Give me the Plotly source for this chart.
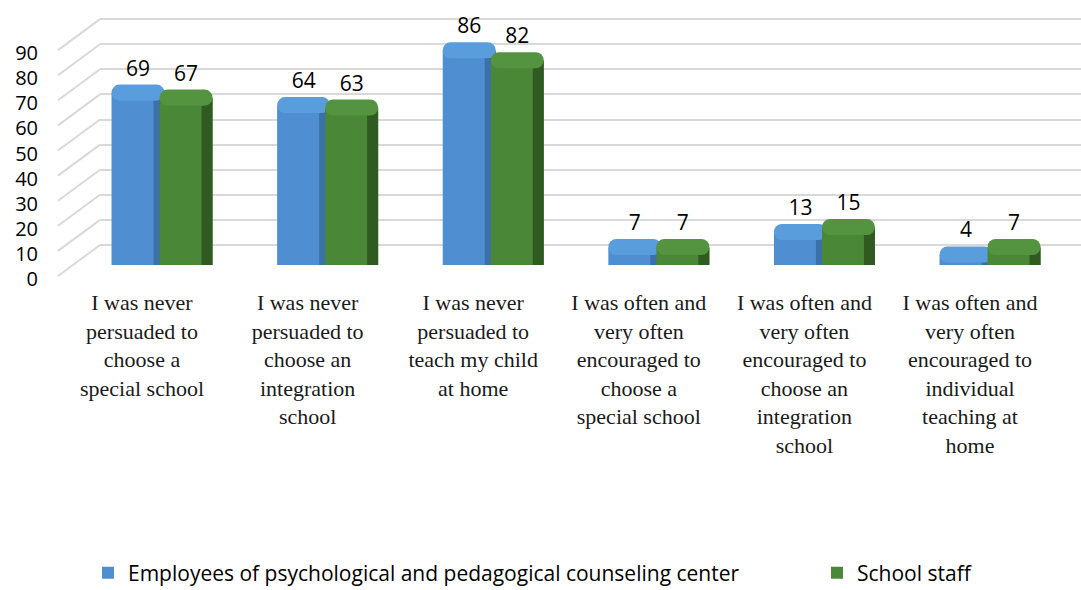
import plotly.graph_objects as go

categories = [
    "I was never<br>persuaded to<br>choose a<br>special school",
    "I was never<br>persuaded to<br>choose an<br>integration<br>school",
    "I was never<br>persuaded to<br>teach my child<br>at home",
    "I was often and<br>very often<br>encouraged to<br>choose a<br>special school",
    "I was often and<br>very often<br>encouraged to<br>choose an<br>integration<br>school",
    "I was often and<br>very often<br>encouraged to<br>individual<br>teaching at<br>home",
]
series_names = ["Employees of psychological and pedagogical counseling center", "School staff"]
employees = [69, 64, 86, 7, 13, 4]
school_staff = [67, 63, 82, 7, 15, 7]
y_ticks = [0, 10, 20, 30, 40, 50, 60, 70, 80, 90]

# styling / geometry
W, H = 1081, 590
ML, MR, MT, MB = 100, 0, 17, 325
plot_h = H - MT - MB          # 248
bar_scale = 2.49              # px per unit (bars)
wall_scale = 2.51             # px per unit (back wall)
wall_zero_off = 20            # wall zero line is 20 px above bar base
depth = 8.6 / bar_scale       # top-face depth in bar units
overlap = 3.0                 # cap overlap into the body (units)
bw = 53 / 165.6               # bar width in category units
shade_w = 11 / 165.6

y_wall_min = -wall_zero_off / wall_scale
y_wall_max = y_wall_min + plot_h / wall_scale
y_bar_max = plot_h / bar_scale

styles = [
    dict(body="#4f8fd1", shade="#3b70a9", cap="#5a9ddc", legend="legend", lx=88, off=-0.184),
    dict(body="#4a8737", shade="#2f5b22", cap="#549440", legend="legend2", lx=817, off=0.106),
]

SERIF = "Liberation Serif, Times New Roman, serif"
SANS = "Open Sans, sans-serif"

fig = go.Figure()
# invisible trace so that the wall axis (y) is drawn
fig.add_trace(go.Scatter(x=categories, y=[0] * len(categories), mode="markers",
                         marker=dict(opacity=0), showlegend=False, hoverinfo="skip"))

for name, vals, st in zip(series_names, [employees, school_staff], styles):
    off = st["off"]
    cap_base = [v - min(v, overlap) for v in vals]
    cap_len = [v + depth - b for v, b in zip(vals, cap_base)]
    fig.add_trace(go.Bar(
        x=categories, y=vals, yaxis="y2", name=name, width=bw, offset=off,
        marker=dict(color=st["body"], line=dict(width=0)), showlegend=True,
        legend=st["legend"], hoverinfo="skip"))
    fig.add_trace(go.Bar(
        x=categories, y=vals, yaxis="y2", width=shade_w, offset=off + bw - shade_w,
        marker=dict(color=st["shade"], line=dict(width=0)), showlegend=False,
        hoverinfo="skip"))
    fig.add_trace(go.Bar(
        x=categories, y=cap_len, base=cap_base, yaxis="y2", width=bw, offset=off,
        marker=dict(color=st["cap"], line=dict(width=0), cornerradius=13),
        text=[str(v) for v in vals], textposition="outside", cliponaxis=False,
        textfont=dict(family=SANS, size=21, color="#000000"),
        showlegend=False, hoverinfo="skip"))

# side-wall diagonal lines
frac = lambda px: (H - MB - px) / plot_h
for v in y_ticks:
    back_px = H - MB - wall_zero_off - wall_scale * v
    front_px = back_px + 31
    fig.add_shape(type="line", xref="paper", yref="paper",
                  x0=(58 - ML) / (W - ML - MR), y0=frac(front_px), x1=0, y1=frac(back_px),
                  line=dict(color="#d9d9d9", width=2), layer="below")

legend_common = dict(orientation="h", xref="container", yref="container",
                     y=(H - 573) / H, xanchor="left", yanchor="middle",
                     font=dict(family=SANS, size=21, color="#000000"),
                     bgcolor="rgba(0,0,0,0)")

fig.update_layout(
    width=W, height=H,
    margin=dict(l=ML, r=MR, t=MT, b=MB, pad=0),
    paper_bgcolor="white", plot_bgcolor="white",
    barmode="overlay",
    xaxis=dict(type="category", range=[(ML - 142) / 165.6, (W - MR - 142) / 165.6],
               showgrid=False, zeroline=False, showline=False, ticks="",
               tickfont=dict(family=SERIF, size=22, color="#1a1a1a"),
               ticklabelstandoff=22, tickangle=0),
    yaxis=dict(range=[y_wall_min, y_wall_max], tickvals=y_ticks, showgrid=True,
               gridcolor="#d9d9d9", gridwidth=2, zeroline=False, showline=False, ticks="",
               tickfont=dict(family=SANS, size=20, color="#000000"),
               ticklabelshift=34, ticklabelstandoff=61),
    yaxis2=dict(range=[0, y_bar_max], overlaying="y", visible=False),
    legend=dict(x=styles[0]["lx"] / W, **legend_common),
    legend2=dict(x=styles[1]["lx"] / W, **legend_common),
    showlegend=True,
)

fig.write_html("out.html")
